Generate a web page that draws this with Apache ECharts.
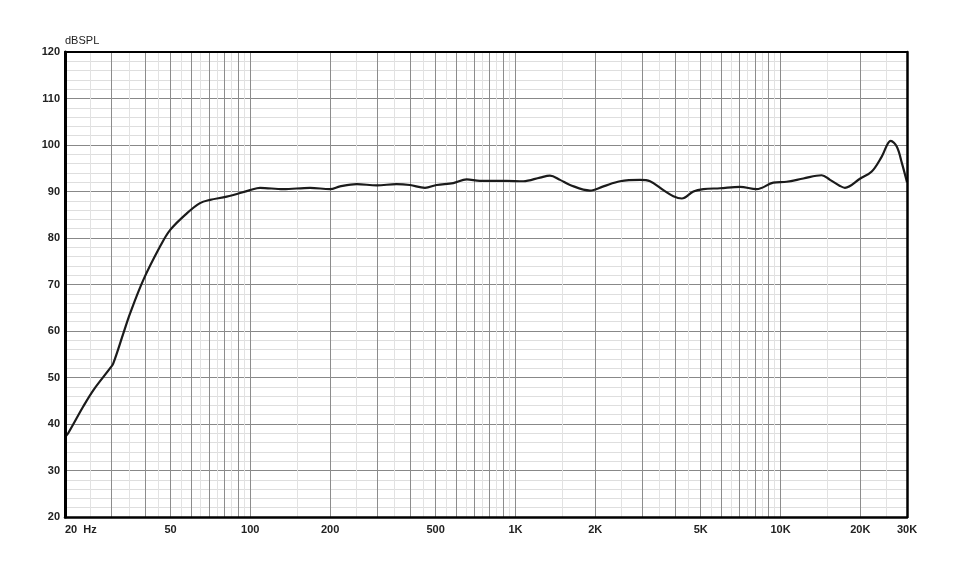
<!DOCTYPE html>
<html><head><meta charset="utf-8">
<script src="https://cdn.jsdelivr.net/npm/echarts@6/dist/echarts.min.js"></script>
<style>html,body{margin:0;padding:0;background:#fff}#c{width:971px;height:565px}</style>
</head><body><div id="c"></div>
<script>
const freqHz = [20, 20.5, 23.4, 25.6, 29.6, 30.4, 33.2, 35.2, 39.5, 45.6, 49.8, 57.6, 64.6, 70.5, 81.5, 99.8, 108.8, 133, 168, 200, 218, 252, 300, 356, 400, 456, 505, 583, 655, 735, 927, 1071, 1239, 1350, 1473, 1607, 1911, 2147, 2481, 2950, 3220, 3616, 3943, 4242, 4693, 5115, 5915, 7034, 8125, 9394, 10550, 12190, 14290, 15370, 16760, 17500, 20000, 22090, 24090, 26050, 27470, 28700, 30000];
const splDb = [37.2, 37.9, 43.7, 47.3, 52.0, 53.0, 59.5, 63.8, 71.0, 78.1, 81.7, 85.3, 87.5, 88.2, 88.9, 90.3, 90.8, 90.5, 90.8, 90.5, 91.1, 91.6, 91.3, 91.6, 91.4, 90.8, 91.4, 91.8, 92.6, 92.3, 92.3, 92.2, 93.0, 93.4, 92.5, 91.4, 90.2, 91.1, 92.2, 92.5, 92.2, 90.3, 89.0, 88.5, 90.0, 90.5, 90.7, 91.0, 90.5, 91.9, 92.1, 92.8, 93.5, 92.5, 91.2, 90.8, 92.8, 94.3, 97.5, 100.9, 99.6, 96.1, 92.0];
const xLabelValues = [20, 50, 100, 200, 500, 1000, 2000, 5000, 10000, 20000, 30000];
const xLabelTexts = ['20  Hz', '50', '100', '200', '500', '1K', '2K', '5K', '10K', '20K', '30K'];
const gridMajorHz = [30, 40, 50, 60, 70, 80, 90, 100, 200, 300, 400, 500, 600, 700, 800, 900, 1000, 2000, 3000, 4000, 5000, 6000, 7000, 8000, 9000, 10000, 20000];
const gridMinorHz = [25, 35, 45, 55, 65, 75, 85, 95, 150, 250, 350, 450, 550, 650, 750, 850, 950, 1500, 2500, 3500, 4500, 5500, 6500, 7500, 8500, 9500, 15000, 25000];

const chart = echarts.init(document.getElementById('c'), null, {renderer: 'canvas'});
const fontFam = 'Liberation Sans, Arial, sans-serif';
const labelFont = {fontFamily: fontFam, fontWeight: 'bold', fontSize: 11, color: '#222'};
const gridLines = gridMinorHz.map(f => ({xAxis: f, lineStyle: {color: '#e2e2e2', width: 1, type: 'solid'}}))
  .concat(gridMajorHz.map(f => ({xAxis: f, lineStyle: {color: '#8c8c8c', width: 1, type: 'solid'}})));

function borderX(pos, w) {
  return {type: 'log', logBase: 10, min: 20, max: 30000, position: pos, z: 20,
    axisLine: {show: true, onZero: false, lineStyle: {color: '#000', width: w}},
    axisTick: {show: false}, axisLabel: {show: false}, splitLine: {show: false}};
}
function borderY(pos, w) {
  return {type: 'value', min: 20, max: 120, position: pos, z: 20,
    axisLine: {show: true, onZero: false, lineStyle: {color: '#000', width: w}},
    axisTick: {show: false}, axisLabel: {show: false}, splitLine: {show: false}};
}

chart.setOption({
  animation: false,
  backgroundColor: '#fff',
  grid: {left: 65, right: 64, top: 52, bottom: 48, show: false},
  xAxis: [{
    type: 'log', logBase: 10, min: 20, max: 30000,
    axisLine: {show: false},
    axisTick: {show: false},
    splitLine: {show: false},
    axisLabel: Object.assign({}, labelFont, {
      margin: 7,
      customValues: xLabelValues,
      alignMinLabel: 'left',
      formatter: v => { const i = xLabelValues.findIndex(x => Math.abs(x - v) / x < 1e-6); return i >= 0 ? xLabelTexts[i] : ''; }
    })
  }, borderX('top', 2), borderX('bottom', 2.5)],
  yAxis: [{
    type: 'value', min: 20, max: 120, interval: 10,
    name: 'dBSPL', nameLocation: 'end', nameGap: 3,
    nameTextStyle: {fontFamily: fontFam, fontSize: 11, color: '#222', align: 'left', verticalAlign: 'bottom', padding: [0, 0, -1, 0]},
    axisLine: {show: false},
    axisTick: {show: false},
    axisLabel: Object.assign({}, labelFont, {margin: 5}),
    splitLine: {show: true, lineStyle: {color: '#888', width: 1}},
    minorTick: {show: false, splitNumber: 5},
    minorSplitLine: {show: true, lineStyle: {color: '#dedede', width: 1}}
  }, borderY('right', 2.5), borderY('left', 3)],
  series: [{
    type: 'line', data: [], xAxisIndex: 0, yAxisIndex: 0, z: 1, silent: true,
    markLine: {silent: true, symbol: ['none', 'none'], label: {show: false}, animation: false, data: gridLines}
  }, {
    type: 'line', xAxisIndex: 0, yAxisIndex: 0, z: 5,
    data: freqHz.map((f, i) => [f, splDb[i]]),
    showSymbol: false, symbol: 'none', smooth: 0.35,
    lineStyle: {color: '#1b1b1b', width: 2.2}
  }]
});
</script></body></html>
